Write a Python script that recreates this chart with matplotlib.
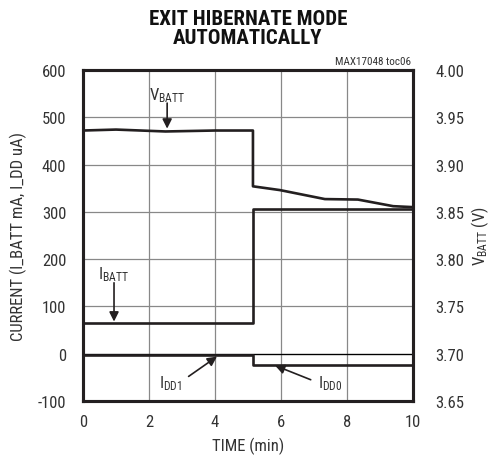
import matplotlib
matplotlib.use("Agg")
import matplotlib.pyplot as plt

plt.rcParams['font.family'] = ['Roboto Condensed', 'DejaVu Sans']
plt.rcParams['mathtext.fontset'] = 'custom'
plt.rcParams['mathtext.rm'] = 'Roboto Condensed'
plt.rcParams['mathtext.it'] = 'Roboto Condensed'
plt.rcParams['mathtext.bf'] = 'Roboto Condensed:bold'

# Data (time in minutes)
t_vbatt = [0, 1.0, 2.5, 4.0, 5.15, 5.15, 5.97, 7.33, 8.33, 9.4, 10]
vbatt = [3.936, 3.937, 3.935, 3.936, 3.936, 3.877, 3.873, 3.8635, 3.863, 3.856, 3.855]
t_ibatt = [0, 5.15, 5.15, 10]
ibatt = [66, 66, 305, 305]
t_idd = [0, 5.15, 5.15, 10]
idd = [-3, -3, -23, -23]

xticks = [0, 2, 4, 6, 8, 10]
yticks_left = [-100, 0, 100, 200, 300, 400, 500, 600]
yticks_right = [3.65, 3.70, 3.75, 3.80, 3.85, 3.90, 3.95, 4.00]

fig = plt.figure(figsize=(4.97, 4.64), dpi=100)
ax = fig.add_axes([0.167, 0.1336, 0.664, 0.7134])
ax2 = ax.twinx()

ax.set_xlim(0, 10)
ax.set_ylim(-100, 600)
ax2.set_ylim(3.65, 4.00)

ax.set_xticks(xticks)
ax.set_yticks(yticks_left)
ax.set_yticklabels([str(v) for v in yticks_left])
ax2.set_yticks(yticks_right)
ax2.set_yticklabels([f"{v:.2f}" for v in yticks_right])

ax.grid(True, color='#888888', linewidth=0.9)
ax.set_axisbelow(True)
ax.axhline(0, color='black', linewidth=0.9, zorder=1)

lc = '#231f20'
tc = '#333333'
ax.plot(t_ibatt, ibatt, color=lc, linewidth=1.9, zorder=3)
ax.plot(t_idd, idd, color=lc, linewidth=1.9, zorder=3)
ax2.plot(t_vbatt, vbatt, color=lc, linewidth=1.9, zorder=3)

for a in (ax, ax2):
    for s in a.spines.values():
        s.set_linewidth(2.2)
        s.set_color(lc)
    a.tick_params(length=0, labelsize=12, colors=tc, pad=9)
ax.tick_params(axis='y', pad=12)
ax2.tick_params(axis='y', pad=16)

ax.set_xlabel('TIME (min)', fontsize=12, color=tc, labelpad=6)
ax.set_ylabel('CURRENT (I_BATT mA, I_DD uA)', fontsize=12, color=tc, labelpad=8)
ax2.set_ylabel(r'V$_\mathregular{BATT}$ (V)', fontsize=12, color=tc, labelpad=4)

fig.text(0.499, 0.978, 'EXIT HIBERNATE MODE\nAUTOMATICALLY', ha='center', va='top',
         fontsize=15, fontweight='bold', linespacing=1.0, color='#111111')
fig.text(0.826, 0.855, 'MAX17048 toc06', ha='right', va='bottom', fontsize=8, color=tc)

arrow = dict(arrowstyle='-|>', color=lc, lw=1.2, mutation_scale=14, shrinkA=0, shrinkB=0)
ax.text(2.55, 548, r'V$_\mathregular{BATT}$', ha='center', va='center', fontsize=12, color=tc)
ax.annotate('', xy=(2.55, 476), xytext=(2.55, 530), arrowprops=arrow)
ax.text(0.94, 170, r'I$_\mathregular{BATT}$', ha='center', va='center', fontsize=12, color=tc)
ax.annotate('', xy=(0.94, 68), xytext=(0.94, 150), arrowprops=arrow)
ax.annotate('', xy=(4.06, -6), xytext=(3.2, -48), arrowprops=arrow)
ax.text(2.65, -62, r'I$_\mathregular{DD1}$', ha='center', va='center', fontsize=12, color=tc)
ax.annotate('', xy=(5.82, -25), xytext=(6.9, -55), arrowprops=arrow)
ax.text(7.5, -62, r'I$_\mathregular{DD0}$', ha='center', va='center', fontsize=12, color=tc)

fig.savefig('out.png', dpi=100)
